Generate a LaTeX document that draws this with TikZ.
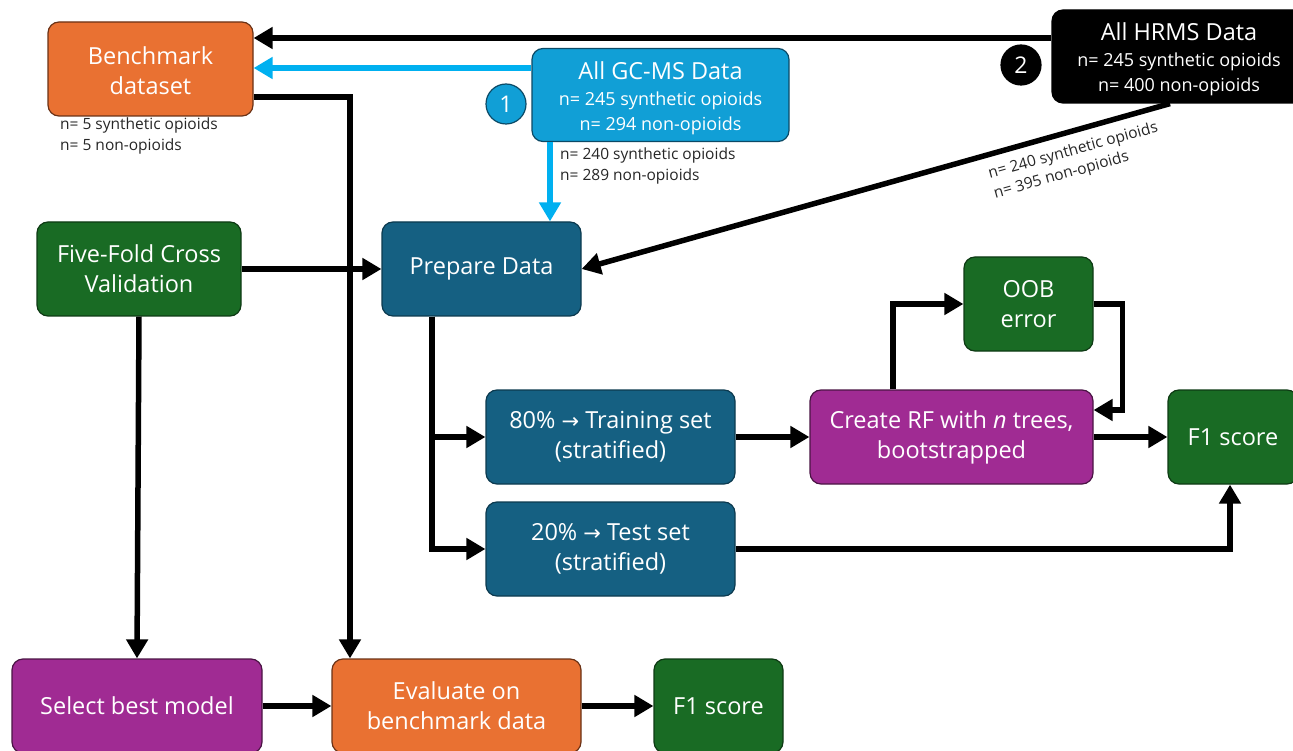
\documentclass[tikz,border=0pt]{standalone}
\usepackage{fontspec}
\setmainfont{Open Sans}
\usetikzlibrary{arrows.meta,calc}
\definecolor{corange}{HTML}{E97132}
\definecolor{corangeB}{HTML}{6B3216}
\definecolor{cgcms}{HTML}{119FD6}
\definecolor{cgcmsB}{HTML}{0B4A66}
\definecolor{cteal}{HTML}{156082}
\definecolor{ctealB}{HTML}{0C3A4F}
\definecolor{cgreen}{HTML}{196B24}
\definecolor{cgreenB}{HTML}{0E3A14}
\definecolor{cpurple}{HTML}{A02B93}
\definecolor{cpurpleB}{HTML}{4A1444}
\definecolor{ccyan}{HTML}{00B0F0}
\newcommand{\subf}{\fontsize{18}{24}\selectfont}
\newcommand{\rarr}{{\fontspec{DejaVu Sans}\fontsize{21}{24}\selectfont →}}
\tikzset{
  box/.style={draw, rounded corners=11pt, line width=1.2pt, text=white, align=center,
    font=\fontsize{23.5}{30}\selectfont, inner sep=0pt, minimum width=#1},
  box/.default=100pt,
  obox/.style={fill=corange, draw=corangeB},
  bbox/.style={fill=cgcms, draw=cgcmsB},
  tbox/.style={fill=cteal, draw=ctealB},
  gbox/.style={fill=cgreen, draw=cgreenB},
  pbox/.style={fill=cpurple, draw=cpurpleB},
  kbox/.style={fill=black, draw=black},
  arr/.style={line width=5.5pt, -{Triangle[length=19pt,width=21pt]}},
  carr/.style={arr, draw=ccyan},
  small/.style={font=\fontsize{15.5}{20.5}\selectfont, align=left, inner sep=0pt, text=black!85},
  num/.style={circle, minimum size=40pt, inner sep=0pt, line width=1.2pt, text=white, font=\fontsize{23}{24}\selectfont}
}
\begin{document}
\begin{tikzpicture}[x=1pt,y=-1pt]
\useasboundingbox (0,0) rectangle (1293,751);
\clip (0,0) rectangle (1293,751);
% nodes
\node[box=205pt, obox, minimum height=94pt] (bench) at (150.5,69) {\rule{0pt}{21pt}Benchmark\\dataset};
\node[box=257pt, bbox, minimum height=93pt] (gcms) at (660.5,95) {\rule{0pt}{24pt}All GC-MS Data\\[-4pt]{\subf n= 245 synthetic opioids}\\[-5pt]{\subf n= 294 non-opioids}};
\node[box=254pt, kbox, minimum height=93pt] (hrms) at (1179,56.5) {\rule{0pt}{24pt}All HRMS Data\\[-4pt]{\subf n= 245 synthetic opioids}\\[-5pt]{\subf n= 400 non-opioids}};
\node[num, fill=cgcms, draw=cgcmsB] (c1) at (506,104) {1};
\node[num, fill=black, draw=black] (c2) at (1021,65) {2};
\node[box=204pt, gbox, minimum height=94pt] (ffcv) at (139,269) {Five-Fold Cross\\Validation};
\node[box=199pt, tbox, minimum height=94pt] (prep) at (481.5,269) {Prepare Data};
\node[box=129pt, gbox, minimum height=94pt] (oob) at (1028.5,304) {OOB\\error};
\node[box=249pt, tbox, minimum height=94pt] (train) at (610.5,437) {80\% \rarr{} Training set\\(stratified)};
\node[box=283pt, pbox, minimum height=94pt] (rf) at (951.5,437) {Create RF with \textit{n} trees,\\bootstrapped};
\node[box=130pt, gbox, minimum height=94pt] (f1a) at (1233,437) {F1 score};
\node[box=249pt, tbox, minimum height=94pt] (test) at (610.5,549) {20\% \rarr{} Test set\\(stratified)};
\node[box=250pt, pbox, minimum height=94pt] (select) at (137,706) {Select best model};
\node[box=249pt, obox, minimum height=94pt] (eval) at (456.5,706) {Evaluate on\\benchmark data};
\node[box=129pt, gbox, minimum height=94pt] (f1b) at (718.5,706) {F1 score};
% labels
\node[small, anchor=north west] (lab1) at (60,118) {n= 5 synthetic opioids\\n= 5 non-opioids};
\node[small, anchor=north west] (lab2) at (560,148) {n= 240 synthetic opioids\\n= 289 non-opioids};
\node[small, rotate=15.5] (lab3) at (1076,161) {n= 240 synthetic opioids\\n= 395 non-opioids};
% connectors
\draw[arr] ([yshift=18.5pt]hrms.west) -- ([yshift=18.5pt]hrms.west -| bench.east);
\draw[carr] ([yshift=27pt]gcms.west) -- ([yshift=27pt]gcms.west -| bench.east);
\draw[carr] ([xshift=-110.5pt]gcms.south) -- ([xshift=-110.5pt]gcms.south |- prep.north);
\draw[arr] ([xshift=-9pt]hrms.south) -- (prep.east);
\draw[arr] ([yshift=-28pt]bench.east) -| ([xshift=-106.5pt]eval.north);
\draw[arr] (ffcv.east) -- (prep.west);
\draw[arr] (ffcv.south) -- (select.north);
\draw[arr] ([xshift=-49.5pt]prep.south) |- (train.west);
\draw[arr] ([xshift=-49.5pt]prep.south) |- (test.west);
\draw[arr] (train.east) -- (rf.west);
\draw[arr] ([xshift=-58.5pt]rf.north) |- (oob.west);
\draw[arr] (oob.east) -- ++(29,0) |- ([yshift=27pt]rf.east);
\draw[arr] (rf.east) -- (f1a.west);
\draw[arr] (test.east) -| ([xshift=-3pt]f1a.south);
\draw[arr] (select.east) -- (eval.west);
\draw[arr] (eval.east) -- (f1b.west);
\end{tikzpicture}
\end{document}
